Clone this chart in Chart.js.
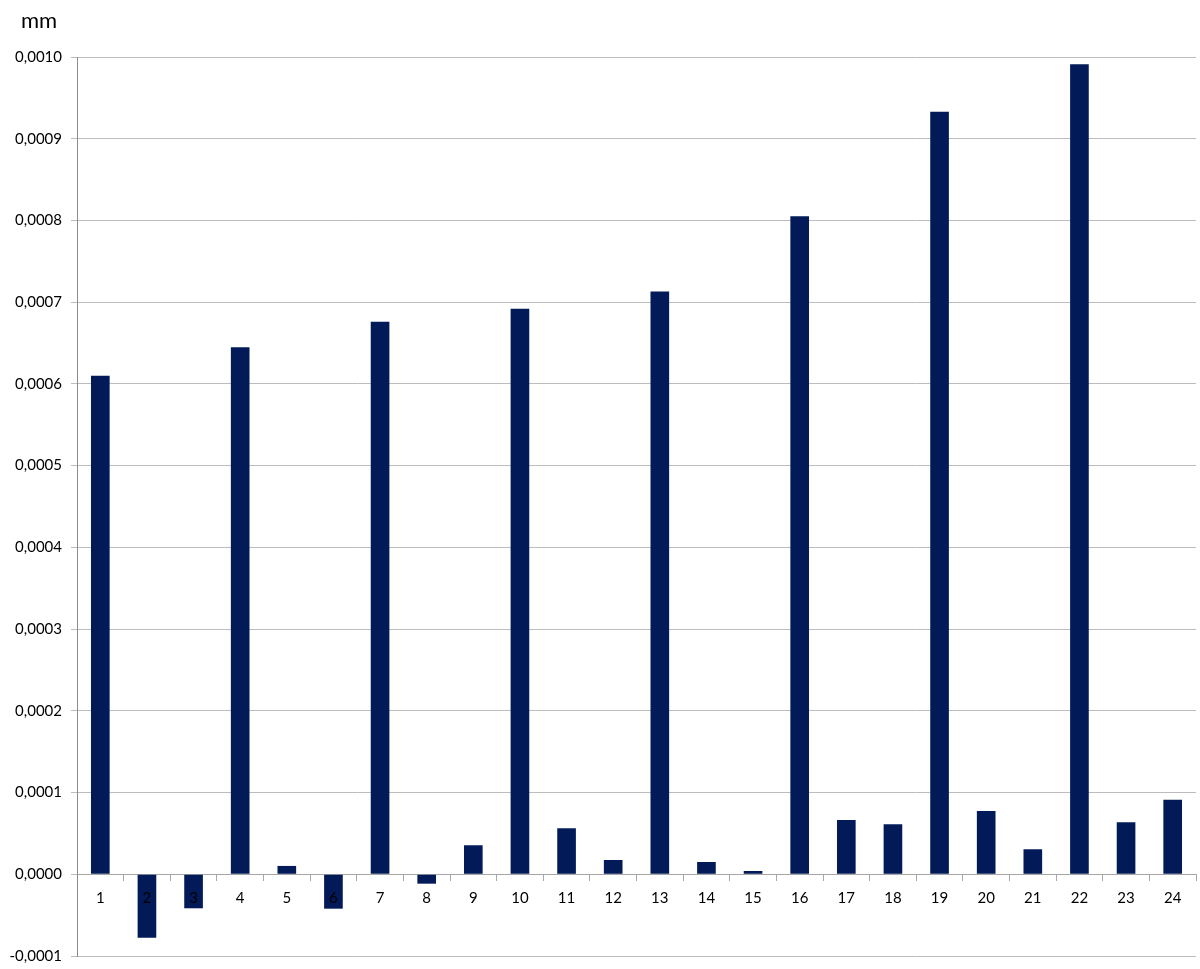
<!DOCTYPE html>
<html>
<head>
<meta charset="utf-8">
<script src="https://cdn.jsdelivr.net/npm/chart.js@4"></script>
<style>
  html, body { margin: 0; padding: 0; background: #ffffff; }
  #wrap { width: 1200px; height: 969px; position: relative; }
</style>
</head>
<body>
<div id="wrap"><canvas id="c" width="1200" height="969"></canvas></div>
<script>
const categories = ['1','2','3','4','5','6','7','8','9','10','11','12','13','14','15','16','17','18','19','20','21','22','23','24'];
const values = [0.000610, -0.0000776, -0.0000416, 0.000645, 0.0000102, -0.0000421, 0.000676, -0.0000115,
                0.0000355, 0.000692, 0.0000563, 0.0000175, 0.000713, 0.0000150, 0.0000040, 0.000805,
                0.0000665, 0.0000612, 0.000933, 0.0000775, 0.0000306, 0.000991, 0.0000636, 0.0000913];
const yTickLabels = ['-0,0001','0,0000','0,0001','0,0002','0,0003','0,0004','0,0005','0,0006','0,0007','0,0008','0,0009','0,0010'];
const unitLabel = 'mm';

const FONT = 'Lato, "Open Sans", sans-serif';

const unitPlugin = {
  id: 'unitLabel',
  afterDraw(chart) {
    const ctx = chart.ctx;
    ctx.save();
    ctx.fillStyle = '#000000';
    ctx.font = '22px ' + FONT;
    ctx.textAlign = 'left';
    ctx.textBaseline = 'alphabetic';
    ctx.fillText(unitLabel, 21, 28);
    ctx.restore();
  }
};

new Chart(document.getElementById('c'), {
  type: 'bar',
  data: {
    labels: categories,
    datasets: [{
      data: values,
      backgroundColor: '#021a57',
      borderWidth: 0,
      barPercentage: 0.4,
      categoryPercentage: 1.0
    }]
  },
  options: {
    responsive: false,
    animation: false,
    devicePixelRatio: 1,
    layout: { padding: { left: 0, right: 4, top: 57, bottom: 13 } },
    plugins: {
      legend: { display: false },
      tooltip: { enabled: false },
      title: { display: false }
    },
    scales: {
      x: {
        position: { y: 0 },
        grid: {
          display: true,
          offset: true,
          drawOnChartArea: false,
          drawTicks: true,
          tickLength: 6,
          color: '#a6a6a6'
        },
        border: { display: true, color: '#a6a6a6', width: 1 },
        ticks: {
          z: 1,
          color: '#000000',
          font: { family: FONT, size: 15 },
          padding: 9,
          maxRotation: 0,
          autoSkip: false
        }
      },
      y: {
        min: -0.0001,
        max: 0.0010,
        afterFit(scale) {
          scale.width = 77;
          scale.paddingTop = 0;
          scale.paddingBottom = 0;
        },
        ticks: {
          stepSize: 0.0001,
          color: '#000000',
          font: { family: FONT, size: 15 },
          padding: 9,
          callback: (v) => yTickLabels[Math.round(v * 10000) + 1]
        },
        grid: {
          color: '#bcbcbc',
          lineWidth: 1,
          drawTicks: true,
          tickLength: 6
        },
        border: { display: true, color: '#8c8c8c', width: 1 }
      }
    }
  },
  plugins: [unitPlugin]
});
</script>
</body>
</html>
